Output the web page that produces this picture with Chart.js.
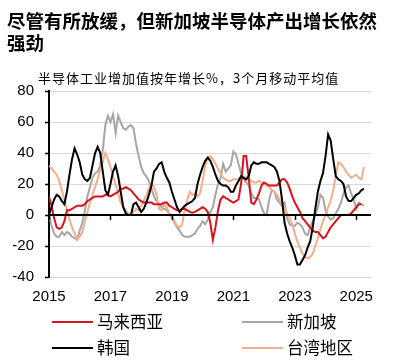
<!DOCTYPE html>
<html>
<head>
<meta charset="utf-8">
<script src="https://cdn.jsdelivr.net/npm/chart.js@4/dist/chart.umd.min.js"></script>
<style>
  html, body { margin: 0; padding: 0; background: #fff; }
  #wrap { position: relative; width: 396px; height: 361px; overflow: hidden; background: #fff; }
  #chart { position: absolute; left: 0; top: 0; }
  #title { position: absolute; left: 7px; top: 9px; width: 382px; font-family: "Noto Sans CJK SC", sans-serif; font-weight: bold; font-size: 18.5px; line-height: 22px; color: #000; }
  #subtitle { position: absolute; left: 38px; top: 70px; font-family: "Noto Sans CJK SC", sans-serif; font-size: 13px; line-height: 16px; letter-spacing: 1px; color: #000; white-space: nowrap; }
  .lg { position: absolute; font-family: "Noto Sans CJK SC", sans-serif; font-size: 16.5px; line-height: 20px; color: #000; white-space: nowrap; }
  .lgline { position: absolute; height: 2px; }
</style>
</head>
<body>
<div id="wrap">
  <canvas id="chart" width="396" height="361"></canvas>
  <div id="title">尽管有所放缓，但新加坡半导体产出增长依然强劲</div>
  <div id="subtitle">半导体工业增加值按年增长%，3个月移动平均值</div>
  <div id="legend"></div>
</div>
<script>
// Monthly values, January 2015 onward (index = months since Jan 2015)
const startYear = 2015;
const tickYears = [2015, 2017, 2019, 2021, 2023, 2025];
const yTicks = [-40, -20, 0, 20, 40, 60, 80];
const seriesNames = ['马来西亚', '新加坡', '韩国', '台湾地区'];

const malaysia = [12,6,-2,-8,-9,-8,-4,3,3,4,5,6,6,6,7,9,10,11,12,12,12,12,13,13,
  12,13,14,15,17,17,18,17,16,14,12,10,9,8,8,8,8,7,7,7,7,8,8,6,
  5,4,3,3,4,4,3,2,1.5,2,3,4,5,4,2,-5,-16,-8,3,10,12,11,10,9,
  8,9,10,20,38,38,24,8,7,10,14,19,21,20,19,19,19,19,21,23,23,21,
  17,12,8,5,2,-2,-4,-6,-8,-10,-11,-11,-13,-15,-14,-11,-8,-6,-4,-2,
  0,0,0,0,1,3,5,7,7,null];

const singapore = [0,-7,-12,-14,-14,-11,-13,-11,-12,-14,-15,-16,-10,-5,3,12,18,24,27,28,32,42,58,64,
  60,65,53,64,60,56,55,57,58,56,46,38,31,27,25,22,17,12,9,7,5,4,3,1,
  -2,-5,-8,-10,-13,-14,-14,-14,-13,-12,-9,-7,-4,-6,-3,2,5,13,20,24,33,28,30,32,
  41,39,33,27,23,21,19,14,11,11,10,5,1,0,10,16,15,10,8,6,8,-2,
  -6,-7,-7,-5,-6,-8,-12,-13,-8,-4,0,5,13,11,3,-1,-3,-2,1,4,
  8,14,18,19,14,10,4,8,7,6];

const korea = [0,5,10,13,12,9,7,15,26,36,43,39,34,26,23,22,24,32,40,44,40,28,16,13,
  20,28,32,25,15,5,1,0,0,7,8,5,2,4,8,13,19,28,30,33,34,28,24,21,
  15,10,5,2,4,6,7,8,9,11,20,26,31,35,37,35,31,26,22,20,19,19,18,15,
  15,19,22,25,24,23,25,32,34,33,33,34,34,34,33,32,31,28,22,10,-5,-12,
  -17,-21,-26,-32,-32,-29,-26,-21,-17,-8,4,15,22,27,38,52,48,36,25,23,
  22,20,12,9,9,11,13,14,16,17];

const taiwan = [32,30,28,26,22,16,10,3,-3,-8,-12,-16,-14,-11,-4,2,8,13,18,23,29,34,40,36,
  31,25,20,14,8,5,3,1,0,2,4,3,6,9,13,17,20,18,13,4,3,7,5,1,
  -1,-4,-7,-8,-6,3,10,15,13,14,12,14,22,32,37,38,36,33,30,27,24,23,22,22,
  23,23,23,24,25,24,23,22,21,21,22,21,20,19,18,16,15,13,10,7,4,1,-2,-6,
  -12,-17,-21,-25,-27,-28,-27,-25,-20,-15,-9,-4,0,5,9,16,25,34,33,31,
  28,26,24,25,26,24,23,31];

const seriesColors = ['#D7141E', '#A6A6A6', '#000000', '#F4AE8A'];
const seriesData = [malaysia, singapore, korea, taiwan];
const drawOrder = [2, 4, 1, 3];

const toPoints = arr => arr.map((v, i) => ({ x: i, y: v }));

const datasets = seriesNames.map((name, k) => ({
  label: name,
  data: toPoints(seriesData[k]),
  borderColor: seriesColors[k],
  backgroundColor: seriesColors[k],
  borderWidth: 2,
  pointRadius: 0,
  tension: 0,
  fill: false,
  spanGaps: false,
  order: drawOrder[k]
}));

// zero line and its tick marks at each x tick
const zeroTicks = {
  id: 'zeroTicks',
  afterDatasetsDraw(chart) {
    const xs = chart.scales.x, ys = chart.scales.y, ctx = chart.ctx;
    const y0 = ys.getPixelForValue(0);
    ctx.save();
    ctx.strokeStyle = '#000';
    ctx.lineWidth = 2;
    ctx.beginPath();
    ctx.moveTo(chart.chartArea.left, y0);
    ctx.lineTo(chart.chartArea.right, y0);
    ctx.stroke();
    ctx.lineWidth = 1.5;
    tickYears.forEach(yr => {
      const px = Math.round(xs.getPixelForValue((yr - startYear) * 12)) + 0.5;
      ctx.beginPath();
      ctx.moveTo(px, y0);
      ctx.lineTo(px, y0 + 5);
      ctx.stroke();
    });
    ctx.restore();
  }
};

new Chart(document.getElementById('chart'), {
  type: 'line',
  data: { datasets },
  options: {
    responsive: false,
    devicePixelRatio: 1,
    animation: false,
    layout: { padding: { left: 0, right: 25, top: 91, bottom: 44 } },
    plugins: { legend: { display: false }, title: { display: false }, tooltip: { enabled: false } },
    scales: {
      x: {
        type: 'linear',
        min: 0,
        max: 125.75,
        afterBuildTicks: s => { s.ticks = tickYears.map(yr => ({ value: (yr - startYear) * 12 })); },
        grid: { display: false, drawTicks: false },
        border: { display: false },
        ticks: {
          autoSkip: false,
          maxRotation: 0,
          padding: 11,
          color: '#000',
          font: { family: 'Liberation Sans, Arial, sans-serif', size: 15 },
          callback: v => String(startYear + Math.round(v / 12))
        }
      },
      y: {
        min: -40,
        max: 80,
        afterBuildTicks: s => { s.ticks = yTicks.map(v => ({ value: v })); },
        afterFit: s => { s.width = 49; },
        grid: {
          color: c => (c.tick && c.tick.value === 0) ? '#000' : '#D9D9D9',
          lineWidth: 1,
          tickLength: 4,
          tickColor: '#000',
          tickWidth: 1.5
        },
        border: { color: '#000', width: 2 },
        ticks: {
          padding: 11,
          color: '#000',
          font: { family: 'Liberation Sans, Arial, sans-serif', size: 15 }
        }
      }
    }
  },
  plugins: [zeroTicks]
});

// HTML legend built from the series list
const legendPos = [
  { lx: 52, ly: 322, tx: 97 },
  { lx: 242, ly: 322, tx: 287 },
  { lx: 52, ly: 348, tx: 97 },
  { lx: 242, ly: 348, tx: 287 }
];
const lg = document.getElementById('legend');
seriesNames.forEach((name, k) => {
  const p = legendPos[k];
  const line = document.createElement('div');
  line.className = 'lgline';
  line.style.left = p.lx + 'px';
  line.style.top = (p.ly - 1) + 'px';
  line.style.width = '41px';
  line.style.background = seriesColors[k];
  lg.appendChild(line);
  const t = document.createElement('div');
  t.className = 'lg';
  t.textContent = name;
  t.style.left = p.tx + 'px';
  t.style.top = (p.ly - 11) + 'px';
  lg.appendChild(t);
});
</script>
</body>
</html>
